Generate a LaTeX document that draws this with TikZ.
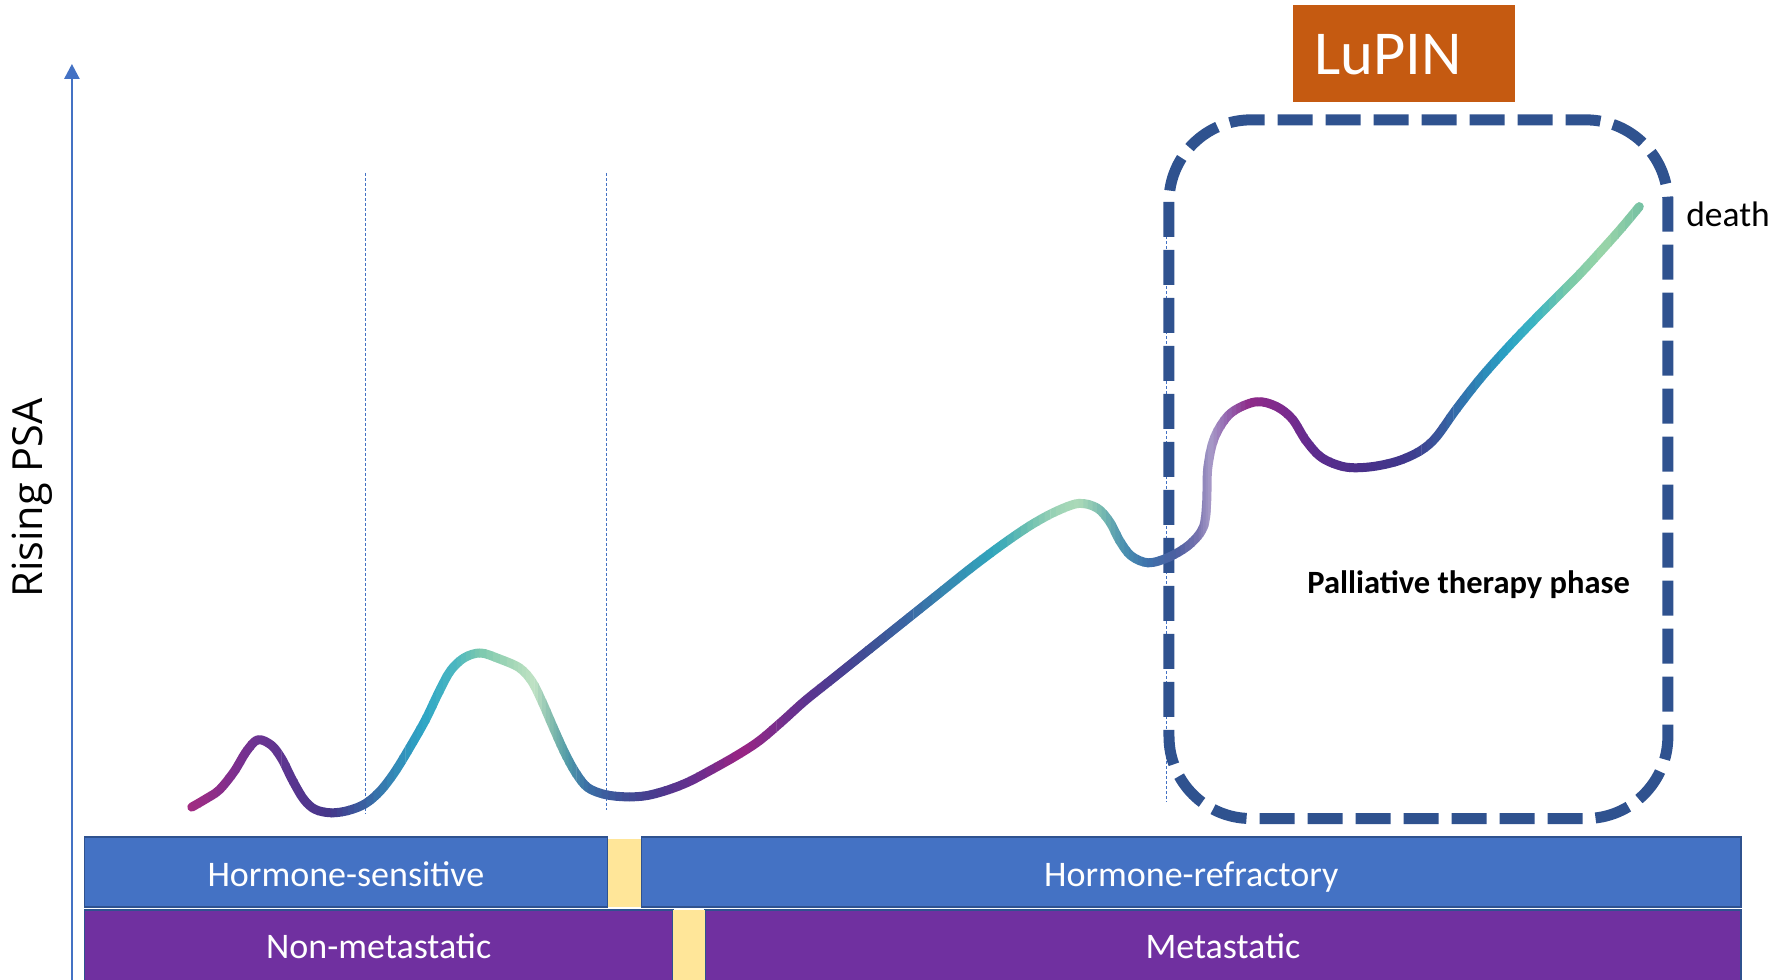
\documentclass[tikz,border=0pt]{standalone}
\usepackage{fontspec}
\setmainfont{Carlito}
\newfontfamily\axisfont{Open Sans}
\usetikzlibrary{arrows.meta}
\definecolor{barblue}{RGB}{68,114,196}
\definecolor{barborder}{RGB}{47,82,143}
\definecolor{barpurple}{RGB}{112,48,160}
\definecolor{baryellow}{RGB}{255,230,153}
\definecolor{lupinorange}{RGB}{197,90,17}
\definecolor{boxblue}{RGB}{47,82,143}
\definecolor{axisblue}{RGB}{68,114,196}
\def\curvepath{plot[smooth,tension=0.55] coordinates {(168,707) (180,700) (192,692) (205,676) (216,658) (226,648) (238,653) (247,665) (256,683) (266,700) (276,709) (290,712) (305,710) (320,704) (333,693) (346,676) (360,653) (373,630) (385,605) (395,587) (407,576) (421,572) (437,577) (455,585) (466,597) (475,615) (485,638) (495,660) (505,678) (515,690) (530,696) (548,698) (566,697) (585,692) (603,685) (622,675) (645,662) (665,649) (685,632) (705,614) (730,594) (760,570) (790,546) (820,522) (850,498) (878,477) (903,460) (925,448) (945,441) (961,445) (972,457) (981,474) (991,487) (1006,493) (1024,488) (1042,477) (1054,462) (1057,440) (1058,410) (1064,383) (1078,362) (1100,352) (1118,356) (1132,367) (1144,386) (1158,401) (1178,409) (1200,409) (1224,404) (1244,395) (1258,383) (1276,358) (1298,330) (1324,301) (1352,272) (1382,242) (1405,217) (1421,199) (1436,181)}}
\begin{document}
\begin{tikzpicture}[x=1.1416pt,y=-1.1416pt,
  guide/.style={axisblue, line width=1pt, dash pattern=on 3pt off 2pt},
  phasebox/.style={boxblue, line width=11pt, dash pattern=on 35pt off 13pt, rounded corners=82pt},
  rope/.style={line width=9pt, line cap=round, line join=round},
  barcell/.style={draw=barborder, line width=1.5pt, inner sep=0pt, outer sep=0pt, text=white, font=\fontsize{36}{40}\selectfont},
  bluecell/.style={barcell, fill=barblue, minimum height=70.2pt, text height=30pt, text depth=1pt},
  purplecell/.style={barcell, fill=barpurple, minimum height=71.9pt, text height=26pt, text depth=0pt},
  gapcell/.style={fill=baryellow, inner sep=0pt, outer sep=0pt},
  axisline/.style={axisblue, line width=2.5pt, -{Triangle[width=15pt,length=15pt]}}]
\useasboundingbox (0,0) rectangle (1568,857.6);
% guide lines
\coordinate (g1t) at (320.6,151.5); \coordinate (g1b) at (320.6,713);
\coordinate (g2t) at (531.7,151.5); \coordinate (g2b) at (531.7,709.5);
\coordinate (g3t) at (1022,185); \coordinate (g3b) at (1022,702.5);
\draw[guide] (g1t) -- (g1b);
\draw[guide] (g2t) -- (g2b);
\draw[guide] (g3t) -- (g3b);
% axis
\coordinate (ybot) at (63,860);
\coordinate (ytop) at (63,56);
\draw[axisline] (ybot) -- (ytop);
\node[rotate=90, font=\axisfont\fontsize{41.5}{45}\selectfont, inner sep=0pt] (psa) at (28.5,436) {Rising PSA};
% LuPIN
\node[fill=lupinorange, minimum width=221.5pt, minimum height=97pt, inner sep=0pt] (lupin) at (1230,46.5) {};
\node[anchor=west, text=white, inner sep=0pt, font=\fontsize{62.5}{66}\selectfont] (lupintext) at ([xshift=21pt,yshift=-2pt]lupin.west) {LuPIN};
% phase box
\coordinate (pbtl) at (1024,105);
\coordinate (pbbr) at (1461,717);
\draw[phasebox] (pbtl) rectangle (pbbr);
\node[font=\bfseries\fontsize{32.5}{35}\selectfont, inner sep=0pt] (palliative) at (1286.5,512) {Palliative therapy phase};
\node[anchor=west, font=\fontsize{35.5}{38}\selectfont, inner sep=0pt] (death) at (1477,187.5) {death};
% curve with gradient
\foreach \xb/\cb [remember=\xb as \xa (initially 160), remember=\cb as \ca (initially A12C82)] in
 {168/A12C82, 205/7E2E8E, 226/6B3592, 260/56358F, 290/44378A, 315/3B5A9E, 345/3489B6, 370/2DA5C6,
  400/4DB8C0, 420/7BC8AE, 450/A6D8B8, 468/C0E2C4, 485/7DB8AC, 498/4E98A8, 515/3A6EA6, 545/3F4F96,
  575/4A3A8E, 610/6A2E8E, 650/9A2483, 680/7A2E8C, 710/5A3590, 740/474192, 770/3D5598, 800/3A6BA6,
  840/3691B4, 870/30A5BC, 900/6DC0B0, 925/9CD3B6, 945/ACDAB8, 965/78BBB0, 985/4A90B0, 1005/3E72AC,
  1030/4B5FA0, 1050/7A74B0, 1060/A89CC8, 1075/9466B0, 1095/8E2A88, 1125/7C2A8E, 1150/5E2C8E,
  1190/4A308A, 1230/40378C, 1255/3B4F98, 1285/2F78B0, 1320/2AA2C4, 1345/3DB5C2, 1375/7ACAA8,
  1405/9AD5A8, 1436/78C2A4, 1450/78C2A4}
{
  \definecolor{ropeA}{HTML}{\ca}
  \definecolor{ropeB}{HTML}{\cb}
  \foreach \k in {0,...,4}{
    \pgfmathsetmacro\xl{\xa+(\xb-\xa)*\k/5}
    \pgfmathsetmacro\xr{\xa+(\xb-\xa)*(\k+1)/5+0.4}
    \pgfmathtruncatemacro\pp{20*\k+10}
    \colorlet{ropemix}{ropeB!\pp!ropeA}
    \begin{scope}
      \clip (\xl,-5) rectangle (\xr,870);
      \draw[rope, draw=ropemix] \curvepath;
    \end{scope}
  }
}
% bars
\node[bluecell, minimum width=522.9pt] (hs) at (303,763.75) {Hormone-sensitive};
\node[bluecell, minimum width=1099.4pt] (hr) at (1043.5,763.75) {Hormone-refractory};
\node[gapcell, minimum width=32.5pt, minimum height=67.9pt] (y1) at (547.25,764.75) {};
\node[purplecell, minimum width=588.5pt] (nm) at (331.75,828.5) {Non-metastatic};
\node[purplecell, minimum width=1036pt] (mt) at (1071.25,828.5) {Metastatic};
\node[gapcell, minimum width=32pt, minimum height=71.9pt] (y2) at (603.5,828.5) {};
\end{tikzpicture}
\end{document}
